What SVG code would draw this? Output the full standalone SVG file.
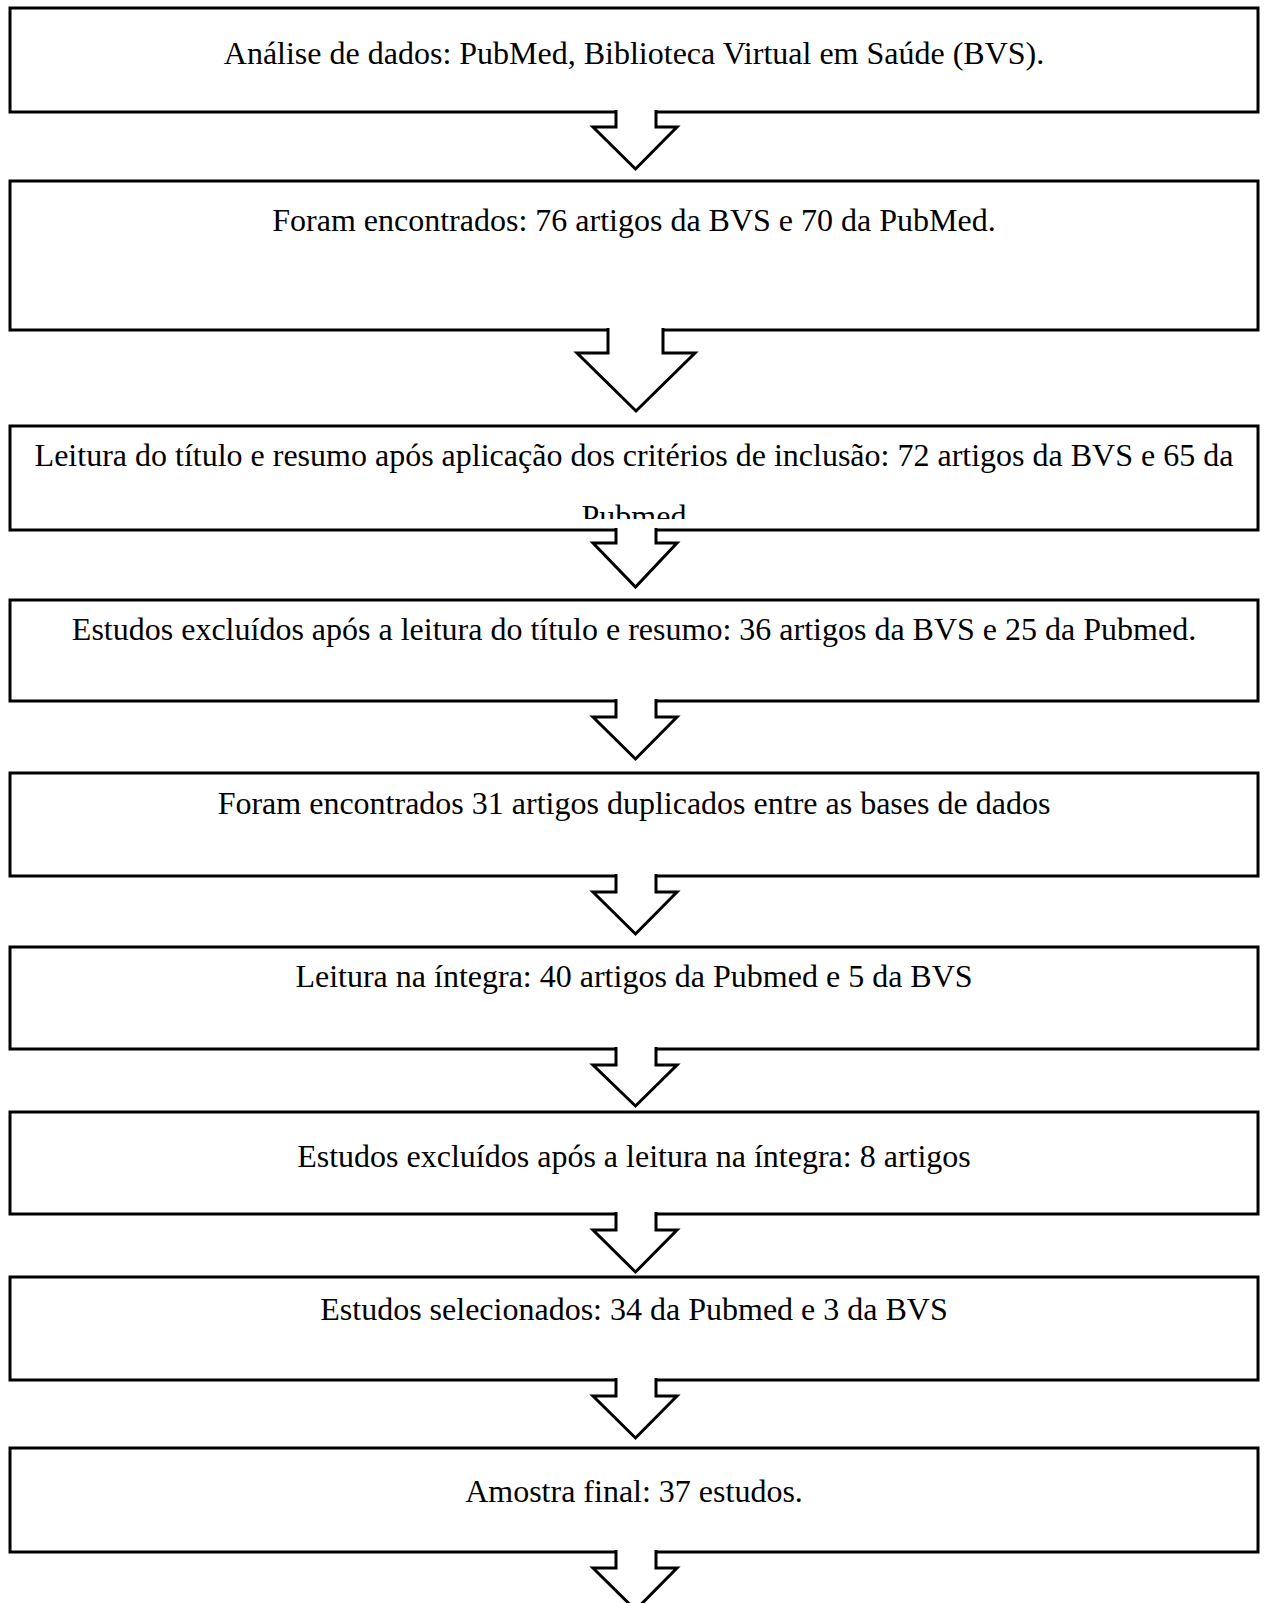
<svg xmlns="http://www.w3.org/2000/svg" width="1264" height="1603" viewBox="0 0 1264 1603">
<style>
.box{fill:#fff;stroke:#000;stroke-width:3}
.arr{fill:#fff;stroke:#000;stroke-width:3;stroke-linejoin:miter}
.t{font-family:"Liberation Serif","Times New Roman",serif;font-size:32px;fill:#000;text-anchor:middle}
</style>
<defs>
<clipPath id="c3"><rect x="10" y="426" width="1248" height="93"/></clipPath>
</defs>
<rect width="1264" height="1603" fill="#fff"/>
<g id="n1"><rect class="box" x="10" y="8" width="1248" height="104"/><text class="t" x="634" y="64">Análise de dados: PubMed, Biblioteca Virtual em Saúde (BVS).</text></g>
<g id="n2"><rect class="box" x="10" y="181" width="1248" height="149"/><text class="t" x="634" y="231">Foram encontrados: 76 artigos da BVS e 70 da PubMed.</text></g>
<g id="n3"><rect class="box" x="10" y="426" width="1248" height="104"/><g clip-path="url(#c3)"><text class="t" x="634" y="466">Leitura do título e resumo após aplicação dos critérios de inclusão: 72 artigos da BVS e 65 da</text><text class="t" x="634" y="527">Pubmed</text></g></g>
<g id="n4"><rect class="box" x="10" y="600" width="1248" height="101"/><text class="t" x="634" y="640">Estudos excluídos após a leitura do título e resumo: 36 artigos da BVS e 25 da Pubmed.</text></g>
<g id="n5"><rect class="box" x="10" y="773" width="1248" height="103"/><text class="t" x="634" y="814">Foram encontrados 31 artigos duplicados entre as bases de dados</text></g>
<g id="n6"><rect class="box" x="10" y="947" width="1248" height="102"/><text class="t" x="634" y="987">Leitura na íntegra: 40 artigos da Pubmed e 5 da BVS</text></g>
<g id="n7"><rect class="box" x="10" y="1112" width="1248" height="102"/><text class="t" x="634" y="1167">Estudos excluídos após a leitura na íntegra: 8 artigos</text></g>
<g id="n8"><rect class="box" x="10" y="1277" width="1248" height="103"/><text class="t" x="634" y="1320">Estudos selecionados: 34 da Pubmed e 3 da BVS</text></g>
<g id="n9"><rect class="box" x="10" y="1448" width="1248" height="104"/><text class="t" x="634" y="1502">Amostra final: 37 estudos.</text></g>
<g id="connectors">
<path class="arr" d="M616 110V127H593L635.5 169L677 127H656V110"/>
<path class="arr" d="M608 328V353H577L636 411L695 353H663V328"/>
<path class="arr" d="M616 528V543H593L635.5 587L677 543H656V528"/>
<path class="arr" d="M616 699V717H593L635.5 759L677 717H656V699"/>
<path class="arr" d="M616 874V892H593L635.5 934L677 892H656V874"/>
<path class="arr" d="M616 1047V1065H593L635.5 1106L677 1065H656V1047"/>
<path class="arr" d="M616 1212V1230H593L635.5 1272L677 1230H656V1212"/>
<path class="arr" d="M616 1378V1396H593L635.5 1438L677 1396H656V1378"/>
<path class="arr" d="M616 1550V1568H593L635.5 1610L677 1568H656V1550"/>
</g>
</svg>
